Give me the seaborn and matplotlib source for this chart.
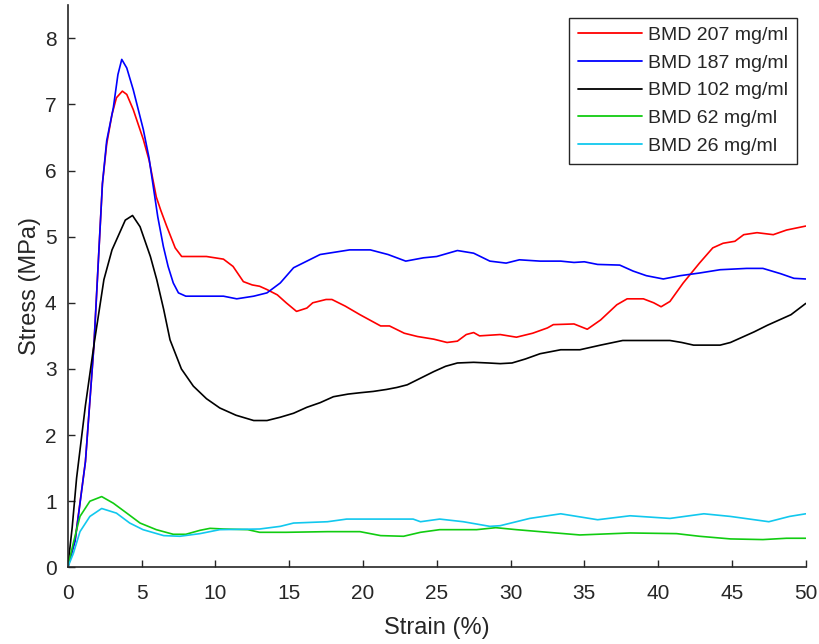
import numpy as np
import pandas as pd
import matplotlib
matplotlib.use("Agg")
import matplotlib.pyplot as plt
import seaborn as sns

labels = ["BMD 207 mg/ml", "BMD 187 mg/ml", "BMD 102 mg/ml", "BMD 62 mg/ml", "BMD 26 mg/ml"]
colors = ["#ff0000", "#0000ff", "#000000", "#11cc11", "#11c8ee"]

x207 = [0, 0.5, 1.2, 1.77, 2.35, 2.64, 3.0, 3.3, 3.7, 4.0, 4.44, 5.12, 5.52, 6.0, 6.3, 6.7, 7.28, 7.72,
        8.5, 9.4, 10.55, 11.2, 11.9, 12.5, 13.0, 13.5, 14.2, 14.8, 15.5, 16.2, 16.6, 17.5, 17.9, 18.8,
        19.8, 21.2, 21.8, 22.8, 23.7, 24.8, 25.7, 26.4, 27.0, 27.5, 27.9, 29.3, 30.4, 31.5, 32.5, 32.9,
        34.3, 35.2, 36.1, 37.2, 37.9, 39.0, 39.7, 40.2, 40.8, 41.7, 42.8, 43.7, 44.4, 45.2, 45.8, 46.7,
        47.8, 48.7, 50.0]
y207 = [0, 0.42, 1.6, 3.34, 5.8, 6.4, 6.85, 7.1, 7.2, 7.15, 6.92, 6.47, 6.15, 5.6, 5.4, 5.16, 4.83, 4.70,
        4.70, 4.70, 4.66, 4.55, 4.32, 4.27, 4.25, 4.20, 4.12, 4.0, 3.87, 3.92, 4.0, 4.05, 4.05, 3.95,
        3.82, 3.65, 3.65, 3.54, 3.49, 3.45, 3.40, 3.42, 3.52, 3.55, 3.50, 3.52, 3.48, 3.54, 3.62, 3.67,
        3.68, 3.60, 3.74, 3.97, 4.06, 4.06, 4.0, 3.94, 4.02, 4.30, 4.60, 4.83, 4.90, 4.93, 5.03, 5.06,
        5.03, 5.10, 5.16]

x187 = [0, 0.5, 1.2, 1.77, 2.35, 2.64, 3.09, 3.4, 3.66, 4.0, 4.44, 5.12, 5.5, 5.8, 6.1, 6.48, 6.8, 7.15,
        7.5, 8.0, 8.9, 10.55, 11.45, 12.6, 13.5, 14.4, 15.3, 16.2, 17.1, 19.1, 20.5, 21.7, 22.9, 24.1,
        25.0, 26.4, 27.5, 28.6, 29.7, 30.6, 32.0, 33.4, 34.3, 35.0, 35.9, 37.4, 38.3, 39.2, 40.35, 41.5,
        42.8, 44.2, 46.0, 47.1, 48.3, 49.2, 50.0]
y187 = [0, 0.40, 1.6, 3.34, 5.8, 6.45, 6.95, 7.45, 7.68, 7.55, 7.22, 6.62, 6.2, 5.75, 5.3, 4.85, 4.55, 4.3,
        4.15, 4.1, 4.1, 4.1, 4.06, 4.1, 4.15, 4.3, 4.53, 4.63, 4.73, 4.80, 4.80, 4.73, 4.63, 4.68,
        4.70, 4.79, 4.75, 4.63, 4.60, 4.65, 4.63, 4.63, 4.61, 4.62, 4.58, 4.57, 4.48, 4.41, 4.36, 4.41,
        4.45, 4.50, 4.52, 4.52, 4.44, 4.37, 4.36]

x102 = [0, 0.3, 0.6, 1.2, 1.8, 2.45, 3.0, 3.4, 3.9, 4.39, 4.9, 5.6, 6.03, 6.5, 6.93, 7.7, 8.51, 9.4,
        10.3, 11.4, 12.6, 13.5, 14.4, 15.3, 16.2, 17.1, 18.0, 19.0, 19.8, 20.7, 21.6, 22.3, 23.0, 23.9,
        24.8, 25.6, 26.4, 27.5, 28.5, 29.3, 30.1, 31.0, 32.0, 33.4, 34.7, 36.1, 37.6, 39.2, 40.8, 41.6,
        42.4, 44.2, 44.9, 45.6, 46.5, 47.4, 48.2, 49.0, 50.0]
y102 = [0, 0.6, 1.35, 2.45, 3.4, 4.35, 4.8, 5.0, 5.25, 5.32, 5.15, 4.7, 4.35, 3.9, 3.44, 3.0, 2.74, 2.55,
        2.41, 2.3, 2.22, 2.22, 2.27, 2.33, 2.42, 2.49, 2.58, 2.62, 2.64, 2.66, 2.69, 2.72, 2.76, 2.86,
        2.96, 3.04, 3.09, 3.10, 3.09, 3.08, 3.09, 3.15, 3.23, 3.29, 3.29, 3.36, 3.43, 3.43, 3.43, 3.40,
        3.36, 3.36, 3.40, 3.47, 3.56, 3.66, 3.74, 3.82, 3.99]

x62 = [0, 0.38, 0.83, 1.5, 2.3, 3.09, 4.0, 4.9, 6.0, 7.15, 8.0, 8.96, 9.64, 10.55, 12.2, 13.0, 14.8,
       17.6, 19.8, 21.2, 22.75, 23.9, 25.2, 27.7, 29.0, 30.4, 32.0, 34.7, 38.1, 41.25, 42.8, 44.9,
       47.1, 48.7, 50.0]
y62 = [0, 0.37, 0.77, 1.0, 1.07, 0.97, 0.82, 0.67, 0.57, 0.50, 0.50, 0.56, 0.59, 0.58, 0.57, 0.53, 0.53,
       0.54, 0.54, 0.48, 0.47, 0.53, 0.57, 0.57, 0.60, 0.57, 0.54, 0.49, 0.52, 0.51, 0.47, 0.43,
       0.42, 0.44, 0.44]

x26 = [0, 0.38, 0.83, 1.5, 2.3, 3.3, 4.2, 5.1, 6.5, 7.6, 8.96, 10.3, 13.0, 14.4, 15.3, 17.6, 18.9,
       23.4, 23.9, 25.2, 26.8, 28.6, 29.3, 31.3, 33.4, 35.9, 38.1, 40.8, 43.1, 44.9, 47.5, 48.9, 50.0]
y26 = [0, 0.21, 0.54, 0.77, 0.89, 0.82, 0.67, 0.57, 0.48, 0.47, 0.51, 0.57, 0.58, 0.62, 0.67, 0.69, 0.73,
       0.73, 0.69, 0.73, 0.69, 0.62, 0.63, 0.74, 0.81, 0.72, 0.78, 0.74, 0.81, 0.77, 0.69, 0.77, 0.81]

series_x = [x207, x187, x102, x62, x26]
series_y = [y207, y187, y102, y62, y26]

frames = []
for lab, xs, ys in zip(labels, series_x, series_y):
    frames.append(pd.DataFrame({"Strain": xs, "Stress": ys, "Sample": lab}))
df = pd.concat(frames, ignore_index=True)

sns.set_theme(style="white")
plt.rcParams["font.family"] = ["Liberation Sans", "DejaVu Sans"]

fig = plt.figure(figsize=(8.2, 6.44), dpi=100)
ax = fig.add_axes([0.0826, 0.119, 0.90, 0.873])

sns.lineplot(data=df, x="Strain", y="Stress", hue="Sample", hue_order=labels,
             palette=dict(zip(labels, colors)), sort=False, estimator=None,
             units="Sample", linewidth=1.2, ax=ax, legend=False)

ax.set_xlim(0, 50)
ax.set_ylim(0, 8.5)
ax.set_xticks(range(0, 51, 5))
ax.set_yticks(range(0, 9))
for s in ["top", "right"]:
    ax.spines[s].set_visible(False)
for s in ["left", "bottom"]:
    ax.spines[s].set_color("#262626")
    ax.spines[s].set_linewidth(1.2)
ax.tick_params(direction="in", length=5, width=1, colors="#262626", labelsize=15,
               labelcolor="#262626", bottom=True, left=True)
ax.tick_params(axis="x", pad=12)
ax.tick_params(axis="y", pad=8)
ax.set_xlabel("Strain (%)", fontsize=17, color="#262626", labelpad=10)
ax.set_ylabel("Stress (MPa)", fontsize=17, color="#262626", labelpad=3)

handles = [plt.Line2D([], [], color=c, linewidth=1.3) for c in colors]
leg = ax.legend(handles, labels, loc="upper right", bbox_to_anchor=(0.988, 0.978),
                fontsize=14, frameon=True, fancybox=False, framealpha=1,
                edgecolor="#262626", handlelength=3.3, handletextpad=0.3,
                labelspacing=0.52, borderpad=0.45, borderaxespad=0)
leg.get_frame().set_linewidth(1.0)
for t in leg.get_texts():
    t.set_color("#262626")

fig.savefig("out.png", dpi=100)
